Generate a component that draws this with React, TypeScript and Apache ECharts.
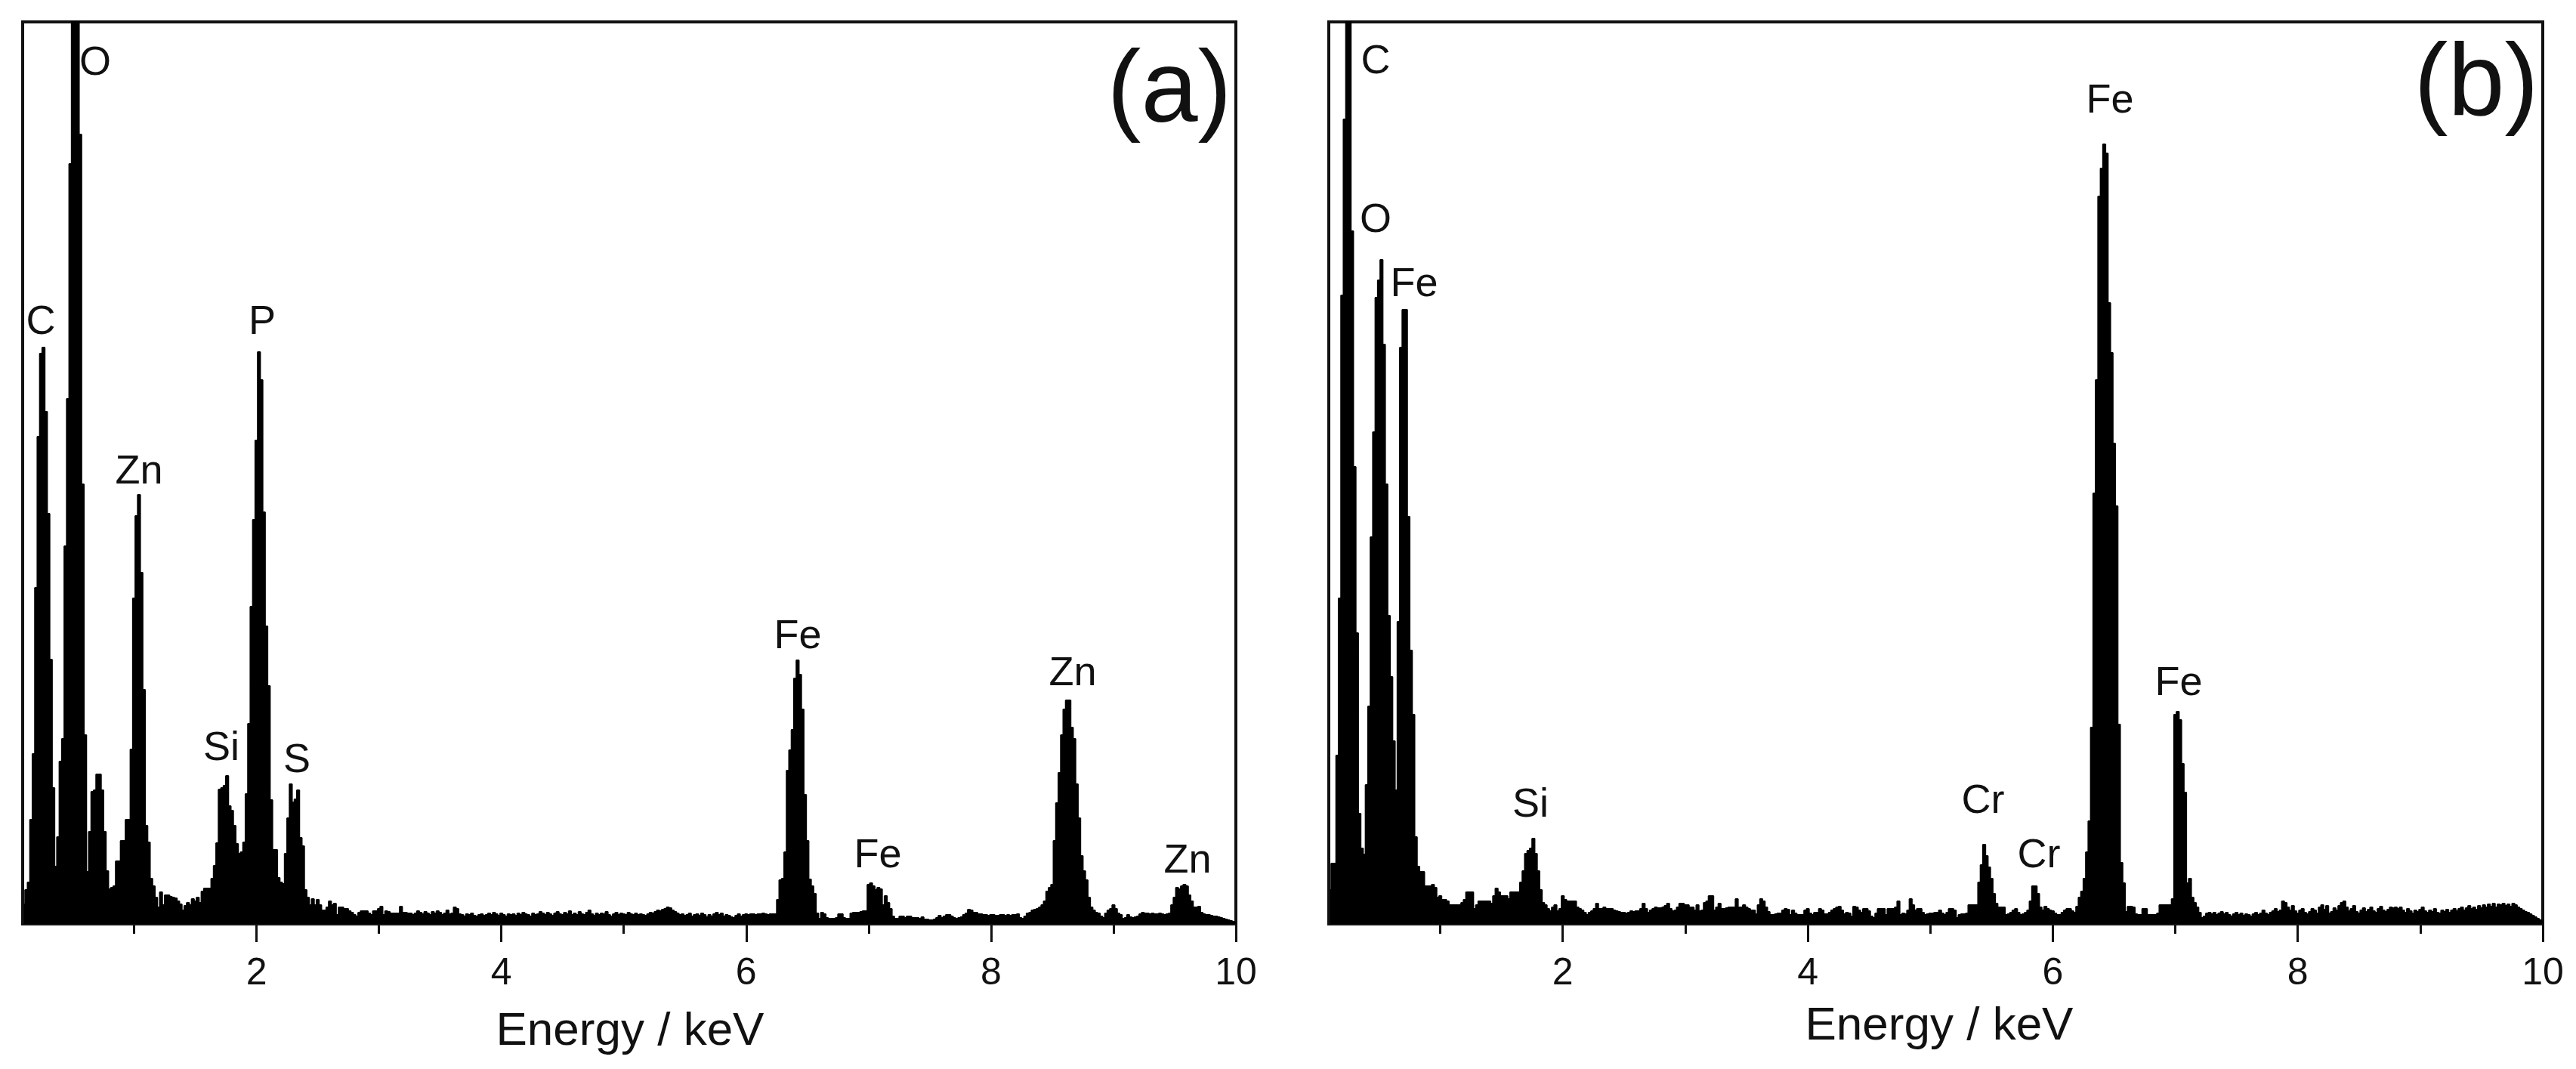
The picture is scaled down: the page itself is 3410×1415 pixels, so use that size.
import * as echarts from "echarts";
import { useEffect, useRef } from "react";

const FONT = "Liberation Sans";
const FIRST_CHANNEL = 0.1;
const CHANNEL_WIDTH = 0.02;
const MAJOR_TICKS = [2, 4, 6, 8, 10];
const MINOR_TICKS = [1, 3, 5, 7, 9];

// counts per channel, one row is 0.5 keV
const countsA = [
  26, 45, 55, 138, 225, 445, 645, 755, 763, 678, 543, 350, 180, 76, 115, 215, 245, 500, 695, 1006, 1300, 1300, 1300, 1045, 582,
  250, 69, 122, 175, 177, 198, 198, 177, 122, 70, 46, 48, 50, 83, 83, 110, 110, 138, 138, 231, 431, 540, 568, 465, 310,
  130, 108, 60, 50, 35, 22, 42, 25, 38, 38, 36, 35, 34, 30, 26, 18, 24, 28, 25, 33, 30, 35, 28, 43, 47,
  47, 47, 60, 77, 107, 178, 180, 183, 196, 156, 150, 130, 106, 93, 95, 108, 172, 265, 420, 535, 640, 757, 720, 545, 394,
  315, 164, 98, 98, 61, 55, 53, 93, 140, 185, 161, 165, 177, 114, 103, 45, 35, 25, 33, 25, 32, 25, 18, 18, 22,
  30, 25, 27, 12, 22, 22, 20, 20, 17, 15, 12, 10, 15, 17, 17, 17, 14, 12, 17, 17, 20, 23, 12, 17, 16,
  14, 14, 14, 14, 23, 15, 15, 14, 14, 12, 14, 17, 15, 13, 16, 14, 12, 16, 14, 17, 15, 12, 14, 18, 13,
  14, 22, 20, 13, 12, 10, 13, 12, 14, 11, 10, 12, 13, 11, 12, 14, 12, 15, 13, 11, 14, 12, 10, 13, 12,
  13, 11, 14, 12, 15, 13, 12, 10, 14, 12, 13, 16, 14, 12, 15, 13, 11, 14, 16, 13, 12, 15, 13, 17, 12,
  14, 12, 16, 13, 12, 15, 18, 13, 11, 14, 12, 14, 13, 16, 12, 10, 13, 15, 12, 14, 13, 12, 15, 13, 12,
  14, 12, 13, 12, 11, 13, 15, 14, 16, 18, 17, 19, 20, 22, 21, 18, 16, 14, 12, 13, 11, 12, 14, 10, 12,
  13, 11, 14, 12, 9, 12, 10, 13, 15, 12, 14, 10, 12, 11, 9, 8, 11, 13, 10, 12, 13, 12, 13, 13, 12,
  13, 13, 14, 13, 12, 13, 13, 13, 32, 58, 60, 95, 203, 230, 257, 325, 349, 330, 284, 171, 110, 59, 50, 40, 14,
  7, 15, 13, 8, 7, 7, 7, 8, 13, 13, 8, 7, 7, 14, 15, 15, 15, 16, 17, 17, 52, 54, 50, 45, 48,
  46, 25, 37, 28, 20, 10, 7, 7, 10, 10, 8, 10, 10, 8, 8, 8, 7, 9, 6, 6, 5, 5, 6, 8, 11,
  8, 10, 12, 12, 10, 8, 7, 8, 9, 12, 14, 19, 18, 15, 15, 13, 13, 12, 12, 11, 12, 12, 11, 11, 12,
  12, 11, 12, 11, 12, 12, 13, 8, 7, 10, 14, 15, 18, 19, 20, 22, 25, 30, 43, 48, 52, 110, 160, 200, 250,
  284, 296, 296, 260, 245, 185, 140, 90, 70, 58, 35, 22, 18, 15, 14, 10, 8, 14, 18, 20, 25, 20, 14, 12, 7,
  8, 12, 9, 8, 9, 10, 13, 15, 14, 14, 13, 14, 13, 13, 14, 13, 12, 13, 14, 25, 35, 48, 46, 50, 52,
  50, 38, 30, 22, 22, 23, 15, 13, 12, 12, 11, 10, 10, 9, 8, 7, 6, 5, 4, 3, 2,
];

const countsB = [
  45, 80, 80, 223, 431, 832, 1065, 1300, 1300, 917, 605, 385, 146, 100, 92, 184, 288, 512, 651, 829, 852, 879, 767, 582, 408,
  327, 242, 177, 400, 763, 813, 813, 539, 362, 277, 115, 76, 69, 69, 50, 50, 50, 52, 48, 35, 37, 32, 32, 30, 25,
  25, 25, 25, 25, 28, 32, 42, 42, 42, 20, 25, 30, 30, 30, 30, 30, 27, 37, 47, 42, 37, 37, 37, 33, 42,
  42, 42, 42, 55, 70, 93, 97, 100, 113, 93, 70, 45, 28, 25, 20, 17, 22, 25, 17, 20, 37, 32, 30, 30, 30,
  30, 22, 20, 18, 15, 12, 15, 17, 20, 27, 20, 20, 22, 20, 20, 20, 18, 17, 16, 15, 15, 14, 15, 17, 16,
  17, 17, 20, 27, 20, 15, 18, 20, 22, 21, 21, 22, 24, 27, 20, 17, 18, 22, 27, 27, 25, 25, 22, 22, 18,
  25, 17, 18, 28, 30, 37, 37, 18, 22, 27, 20, 20, 21, 22, 22, 22, 33, 22, 22, 25, 22, 20, 18, 18, 13,
  25, 33, 30, 22, 16, 12, 12, 13, 14, 14, 18, 20, 19, 12, 18, 14, 12, 12, 12, 18, 20, 14, 12, 15, 15,
  20, 18, 13, 13, 15, 18, 20, 22, 23, 18, 13, 15, 14, 10, 23, 22, 18, 15, 20, 20, 17, 10, 8, 14, 20,
  20, 20, 12, 20, 20, 20, 22, 30, 12, 14, 13, 18, 33, 25, 18, 20, 20, 15, 12, 13, 14, 14, 15, 15, 18,
  14, 12, 15, 20, 20, 18, 8, 12, 13, 13, 14, 25, 25, 25, 25, 55, 78, 105, 90, 75, 60, 40, 27, 22, 22,
  22, 12, 13, 15, 18, 20, 15, 12, 13, 15, 18, 30, 50, 50, 40, 22, 18, 23, 20, 18, 17, 14, 12, 12, 15,
  18, 20, 20, 17, 15, 23, 35, 43, 60, 95, 136, 260, 570, 720, 963, 1000, 1032, 1020, 822, 756, 636, 553, 264, 81, 54,
  16, 23, 23, 22, 13, 12, 12, 20, 20, 12, 12, 12, 12, 14, 25, 25, 25, 25, 25, 33, 277, 281, 270, 212, 174,
  54, 60, 35, 28, 22, 15, 8, 10, 14, 15, 13, 15, 12, 14, 16, 13, 15, 12, 10, 13, 15, 12, 14, 11, 13,
  12, 10, 13, 15, 12, 14, 18, 14, 12, 15, 17, 20, 16, 18, 30, 28, 22, 18, 24, 17, 14, 18, 20, 15, 13,
  16, 20, 18, 14, 22, 25, 19, 24, 14, 16, 21, 18, 24, 28, 30, 22, 17, 20, 24, 16, 14, 18, 21, 16, 19,
  22, 17, 15, 20, 23, 18, 16, 19, 22, 21, 22, 20, 22, 18, 15, 20, 17, 14, 18, 16, 19, 22, 17, 15, 18,
  16, 20, 15, 14, 18, 16, 19, 15, 18, 20, 17, 20, 22, 18, 21, 24, 20, 22, 19, 24, 21, 25, 22, 26, 23,
  27, 22, 26, 25, 27, 24, 26, 23, 27, 25, 22, 20, 18, 16, 15, 13, 11, 9, 7, 5, 4,
];

const toSpectrum = (counts: number[]) =>
  counts.map((c, i) => [FIRST_CHANNEL + i * CHANNEL_WIDTH, c]);

// x is the centre, baseline the text's baseline in page pixels
const peakLabel = (text: string, x: number, baseline: number, fontSize = 54) => ({
  type: "text",
  x,
  y: baseline - fontSize * 0.82,
  style: {
    text,
    fontSize,
    fontFamily: FONT,
    fill: "#111",
    align: "center",
    verticalAlign: "top",
  },
});

const spectrumSeries = (index: number, counts: number[]) => ({
  type: "line",
  xAxisIndex: index * 2,
  yAxisIndex: index,
  data: toSpectrum(counts),
  step: "middle",
  showSymbol: false,
  lineStyle: { color: "#000", width: 2 },
  itemStyle: { color: "#000" },
  areaStyle: { color: "#000", opacity: 1 },
});

const xAxes = (gridIndex: number) => [
  {
    type: "value",
    gridIndex,
    position: "bottom",
    min: 0.09,
    max: 10,
    splitLine: { show: false },
    axisLine: { show: true, onZero: false, lineStyle: { color: "#111", width: 4 } },
    axisTick: { show: true, customValues: MAJOR_TICKS, length: 24, lineStyle: { color: "#111", width: 3 } },
    axisLabel: { customValues: MAJOR_TICKS, color: "#111", fontSize: 50, fontFamily: FONT, margin: 38 },
  },
  {
    type: "value",
    gridIndex,
    position: "bottom",
    min: 0.09,
    max: 10,
    splitLine: { show: false },
    axisLine: { show: false },
    axisTick: { show: true, customValues: MINOR_TICKS, length: 13, lineStyle: { color: "#111", width: 3 } },
    axisLabel: { show: false },
  },
];

const yAxis = (gridIndex: number) => ({
  type: "value",
  gridIndex,
  min: 0,
  max: 1194,
  splitLine: { show: false },
  axisLine: { show: true, onZero: false, lineStyle: { color: "#111", width: 4 } },
  axisTick: { show: false },
  axisLabel: { show: false },
});

export default function App() {
  const chartRef = useRef<HTMLDivElement>(null);

  useEffect(() => {
    const chart = echarts.init(chartRef.current!, undefined, { renderer: "svg" });
    const frame = { show: true, top: 29, height: 1194, borderColor: "#111", borderWidth: 4, backgroundColor: "#fff" };
    chart.setOption({
      animation: false,
      backgroundColor: "#fff",
      grid: [
        { ...frame, left: 30, width: 1606 },
        { ...frame, left: 1759, width: 1607 },
      ],
      xAxis: [...xAxes(0), ...xAxes(1)],
      yAxis: [yAxis(0), yAxis(1)],
      series: [spectrumSeries(0, countsA), spectrumSeries(1, countsB)],
      graphic: [
        peakLabel("C", 54, 440),
        peakLabel("O", 126, 97),
        peakLabel("Zn", 184, 638),
        peakLabel("Si", 293, 1004),
        peakLabel("P", 347, 440),
        peakLabel("S", 393, 1020),
        peakLabel("Fe", 1056, 856),
        peakLabel("Fe", 1162, 1146),
        peakLabel("Zn", 1420, 905),
        peakLabel("Zn", 1572, 1153),
        peakLabel("(a)", 1548, 158, 135),
        peakLabel("Energy / keV", 834, 1381, 62),
        peakLabel("C", 1821, 95),
        peakLabel("O", 1821, 305),
        peakLabel("Fe", 1872, 390),
        peakLabel("Si", 2026, 1079),
        peakLabel("Cr", 2625, 1074),
        peakLabel("Cr", 2699, 1146),
        peakLabel("Fe", 2793, 147),
        peakLabel("Fe", 2884, 918),
        peakLabel("(b)", 3278, 149, 135),
        peakLabel("Energy / keV", 2567, 1374, 62),
      ],
    });
    return () => chart.dispose();
  }, []);

  return (
    <div
      ref={chartRef}
      style={{ position: "absolute", left: 0, top: 0, width: 3410, height: 1415 }}
    />
  );
}
